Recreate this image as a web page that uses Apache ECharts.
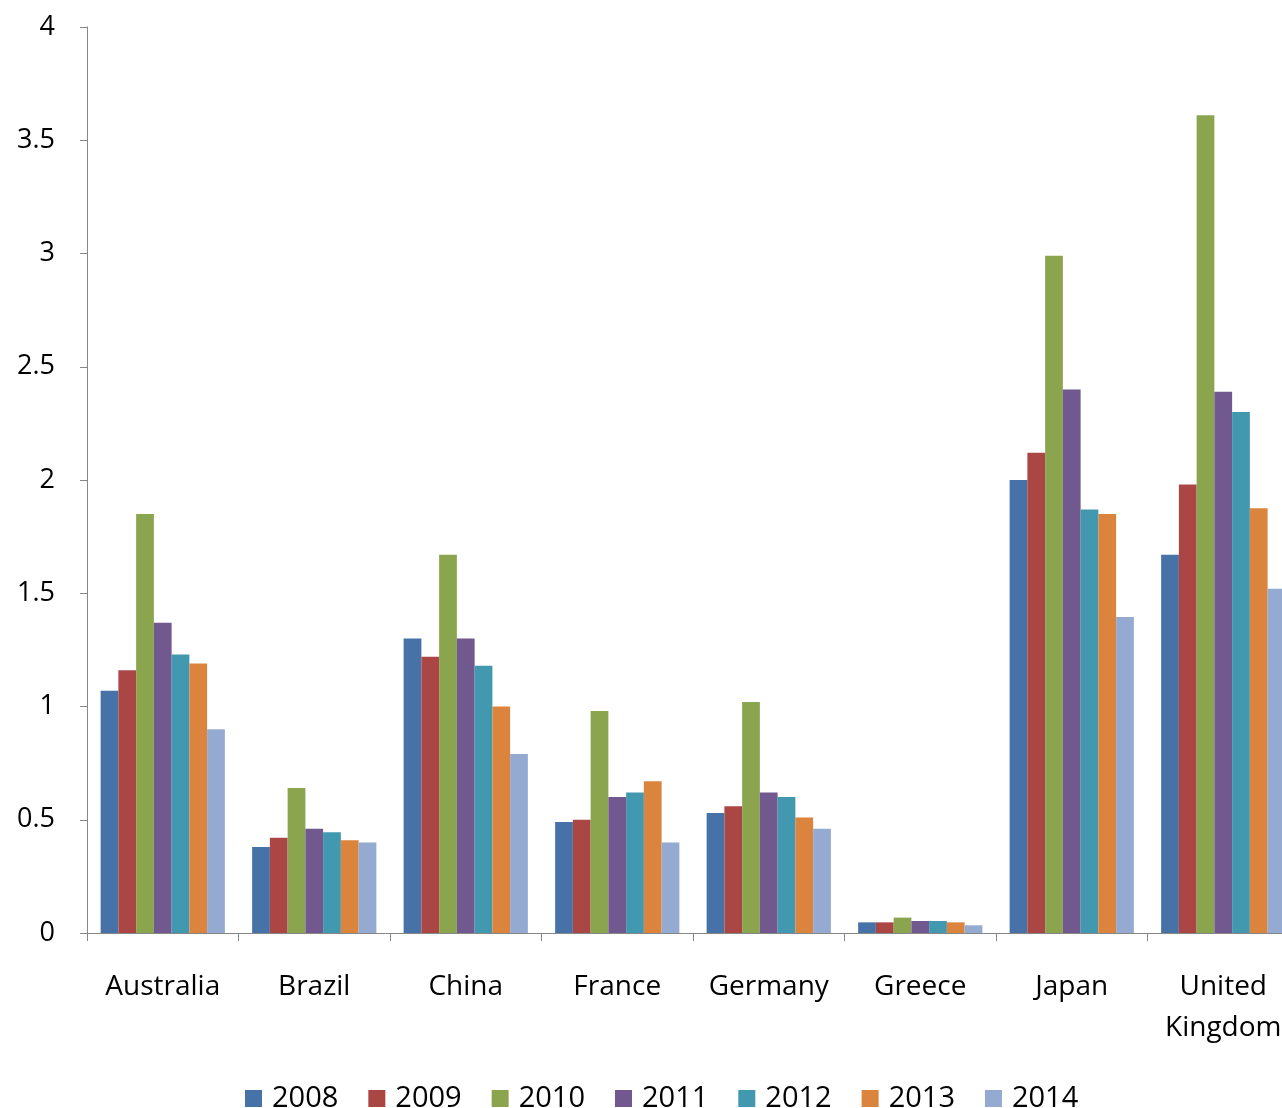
<!DOCTYPE html>
<html>
<head>
<meta charset="utf-8">
<title>Values by country, 2008–2014</title>
<script src="https://cdn.jsdelivr.net/npm/echarts@6/dist/echarts.min.js"></script>
<style>
  html, body { margin: 0; padding: 0; background: #ffffff; }
  #chart { width: 1282px; height: 1108px; }
</style>
</head>
<body>
<div id="chart"></div>
<script>
// Categories along the x axis
const countries = ['Australia', 'Brazil', 'China', 'France', 'Germany', 'Greece', 'Japan', 'United\nKingdom'];

// One series per year, values in country order
const years = ['2008', '2009', '2010', '2011', '2012', '2013', '2014'];
const v2008 = [1.07, 0.38, 1.30, 0.49, 0.53, 0.047, 2.00, 1.67];
const v2009 = [1.16, 0.42, 1.22, 0.50, 0.56, 0.047, 2.12, 1.98];
const v2010 = [1.85, 0.64, 1.67, 0.98, 1.02, 0.068, 2.99, 3.61];
const v2011 = [1.37, 0.46, 1.30, 0.60, 0.62, 0.053, 2.40, 2.39];
const v2012 = [1.23, 0.445, 1.18, 0.62, 0.60, 0.053, 1.87, 2.30];
const v2013 = [1.19, 0.41, 1.00, 0.67, 0.51, 0.047, 1.85, 1.875];
const v2014 = [0.90, 0.40, 0.79, 0.40, 0.46, 0.034, 1.395, 1.52];
const seriesValues = [v2008, v2009, v2010, v2011, v2012, v2013, v2014];

// Y axis tick settings
const yMin = 0;
const yMax = 4;
const yStep = 0.5;

const palette = ['#4672A8', '#AA4644', '#8BA54F', '#71598F', '#4298AF', '#DB843D', '#94AAD0'];
const FONT = '"Open Sans", "Noto Sans", sans-serif';
const axisGray = '#868686';

const chart = echarts.init(document.getElementById('chart'), null, { renderer: 'canvas' });

chart.setOption({
  animation: false,
  backgroundColor: '#ffffff',
  color: palette,
  // The plot runs past the right edge of the canvas, so the last group is clipped
  grid: { left: 87, top: 27, width: 1212, height: 906, containLabel: false, outerBoundsMode: 'none' },
  legend: {
    data: years,
    left: 240,
    top: 1079,
    orient: 'horizontal',
    icon: 'rect',
    itemWidth: 17,
    itemHeight: 17,
    itemGap: 30,
    textStyle: {
      fontFamily: FONT,
      fontSize: 29,
      color: '#000000',
      padding: [0, 0, 0, 5]
    }
  },
  xAxis: {
    type: 'category',
    data: countries,
    boundaryGap: true,
    axisLine: { show: true, lineStyle: { color: axisGray, width: 1 } },
    axisTick: { show: true, length: 8, lineStyle: { color: axisGray, width: 1 } },
    axisLabel: {
      fontFamily: FONT,
      fontSize: 28,
      lineHeight: 41,
      color: '#000000',
      margin: 34,
      interval: 0,
      hideOverlap: false
    },
    splitLine: { show: false }
  },
  yAxis: {
    type: 'value',
    min: yMin,
    max: yMax,
    interval: yStep,
    axisLine: { show: true, lineStyle: { color: axisGray, width: 1 } },
    axisTick: { show: true, length: 7, lineStyle: { color: axisGray, width: 1 } },
    axisLabel: {
      fontFamily: FONT,
      fontSize: 27,
      color: '#000000',
      margin: 32
    },
    splitLine: { show: false }
  },
  series: years.map((y, i) => ({
    name: y,
    type: 'bar',
    data: seriesValues[i],
    barGap: '0%',
    barCategoryGap: '18%',
    itemStyle: { color: palette[i] }
  }))
});
</script>
</body>
</html>
